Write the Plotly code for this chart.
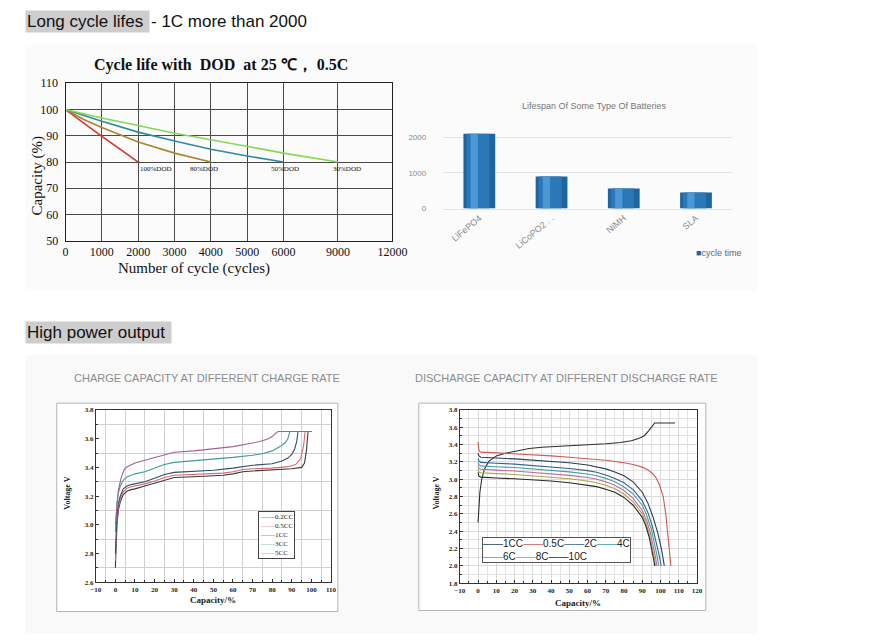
import numpy as np
import plotly.graph_objects as go

W, H = 873, 641


def px(x):
    return x / W


def py(y):
    return 1 - y / H


# ---------------- data ----------------
cycle_ticks = [0, 1000, 2000, 3000, 4000, 5000, 6000, 9000, 12000]
cycle_tick_text = ["0", "1000", "2000", "3000", "4000", "5000", "6000", "9000", "12000"]
capacity_ticks = [50, 60, 70, 80, 90, 100, 110]

dod100_cycles = [0, 500, 1000, 1500, 2000]
dod100_cap = [100, 94.8, 89.8, 84.9, 80]
dod80_cycles = [0, 500, 1000, 2000, 3000, 4000]
dod80_cap = [100, 96.2, 93.2, 87.6, 83.4, 80]
dod50_cycles = [0, 1000, 2000, 3000, 4000, 5000, 6000]
dod50_cap = [100, 95.5, 91.4, 88.0, 84.9, 82.3, 80]
dod30_cycles = [0, 1000, 2000, 3000, 4000, 5000, 6000, 9000]
dod30_cap = [100, 96.8, 93.9, 91.0, 88.5, 85.9, 83.4, 80]
dod_labels = ["100%DOD", "80%DOD", "50%DOD", "30%DOD"]

battery_types = ["LiFePO4", "LiCoPO2 . .", "NiMH", "SLA"]
battery_cycles = [2100, 900, 560, 450]
battery_ticks = [0, 1000, 2000]

c02_x = [0, 0.3, 0.8, 1.5, 2.5, 4, 6, 8, 10, 15, 20, 25, 30, 40, 50, 55, 60, 65, 70, 80, 90, 95, 96.5, 97.5, 98.3, 100]
c02_v = [2.70, 2.85, 3.00, 3.10, 3.16, 3.21, 3.235, 3.245, 3.25, 3.27, 3.29, 3.315, 3.33, 3.335, 3.34, 3.345,
         3.355, 3.37, 3.375, 3.38, 3.39, 3.40, 3.43, 3.52, 3.65, 3.65]
c05_x = [0, 0.3, 0.8, 1.5, 2.5, 4, 6, 8, 10, 15, 20, 25, 30, 40, 50, 55, 60, 65, 70, 80, 88, 92, 94.5, 96, 96.8, 100]
c05_v = [2.75, 2.90, 3.03, 3.12, 3.18, 3.23, 3.255, 3.265, 3.27, 3.285, 3.305, 3.33, 3.345, 3.35, 3.355, 3.36,
         3.37, 3.385, 3.39, 3.395, 3.405, 3.42, 3.46, 3.55, 3.65, 3.65]
c1_x = [0, 0.3, 0.8, 1.5, 2.5, 4, 6, 8, 10, 15, 20, 25, 30, 40, 50, 60, 65, 70, 80, 85, 88, 90, 91.5, 92.5, 93.2, 100]
c1_v = [2.80, 2.95, 3.06, 3.15, 3.20, 3.25, 3.27, 3.28, 3.285, 3.30, 3.325, 3.35, 3.365, 3.37, 3.38, 3.395,
        3.405, 3.415, 3.425, 3.445, 3.465, 3.49, 3.53, 3.58, 3.65, 3.65]
c3_x = [0, 0.3, 0.8, 1.5, 2.5, 4, 6, 8, 10, 15, 20, 25, 30, 40, 50, 60, 70, 75, 80, 84, 86.5, 88, 89, 100]
c3_v = [2.95, 3.05, 3.15, 3.22, 3.27, 3.31, 3.335, 3.345, 3.355, 3.37, 3.395, 3.42, 3.435, 3.445, 3.46, 3.47,
        3.485, 3.495, 3.515, 3.545, 3.57, 3.60, 3.65, 3.65]
c5_x = [0, 0.5, 1.5, 3, 4.5, 6, 8, 10, 15, 20, 25, 30, 40, 50, 60, 70, 75, 78, 80, 81.5, 83, 100]
c5_v = [3.00, 3.10, 3.24, 3.33, 3.385, 3.405, 3.42, 3.43, 3.45, 3.47, 3.49, 3.505, 3.515, 3.53, 3.545, 3.57,
        3.585, 3.60, 3.615, 3.635, 3.65, 3.65]
charge_names = ["0.2CC", "0.5CC", "1CC", "3CC", "5CC"]

chg_x = [0, 0.5, 1, 2, 3.5, 6, 10, 15, 20, 28, 35, 45, 60, 70, 78, 84, 88, 91, 93.5, 95.5, 96.8, 108]
chg_v = [2.50, 2.70, 2.85, 3.00, 3.12, 3.21, 3.27, 3.30, 3.32, 3.355, 3.37, 3.38, 3.395, 3.41, 3.425, 3.445,
         3.47, 3.50, 3.56, 3.62, 3.65, 3.65]
d05_x = [0, 0.4, 1, 2, 5, 10, 20, 30, 40, 50, 60, 70, 80, 85, 90, 93, 95.5, 97.5, 99.5, 101.5, 103, 104.3, 105.7]
d05_v = [3.43, 3.34, 3.32, 3.31, 3.31, 3.305, 3.295, 3.285, 3.27, 3.255, 3.24, 3.22, 3.19, 3.17, 3.14, 3.11,
         3.07, 3.02, 2.93, 2.80, 2.58, 2.30, 2.00]
d1_x = [0, 0.5, 1.5, 4, 10, 20, 30, 40, 50, 60, 65, 70, 75, 80, 85, 90, 93, 96, 98.5, 100.5, 102.1]
d1_v = [3.30, 3.27, 3.255, 3.25, 3.245, 3.235, 3.22, 3.205, 3.19, 3.165, 3.145, 3.12, 3.085, 3.04, 2.97, 2.85,
        2.73, 2.56, 2.38, 2.20, 2.00]
d2_x = [0, 0.5, 1.5, 4, 10, 20, 30, 40, 50, 60, 65, 70, 75, 80, 85, 90, 93, 95.5, 97.5, 99, 100.4]
d2_v = [3.24, 3.21, 3.195, 3.19, 3.185, 3.175, 3.16, 3.145, 3.125, 3.10, 3.08, 3.05, 3.01, 2.96, 2.88, 2.75,
        2.62, 2.46, 2.30, 2.15, 2.00]
d4_x = [0, 0.5, 1.5, 4, 10, 20, 30, 40, 50, 60, 65, 70, 75, 80, 85, 90, 92.5, 95, 96.8, 98, 99.0]
d4_v = [3.20, 3.165, 3.155, 3.15, 3.145, 3.135, 3.12, 3.105, 3.085, 3.06, 3.04, 3.01, 2.97, 2.91, 2.83, 2.70,
        2.58, 2.42, 2.26, 2.13, 2.00]
d6_x = [0, 0.5, 1.5, 4, 10, 20, 30, 40, 50, 60, 65, 70, 75, 80, 85, 90, 92.5, 94.5, 96.2, 97.2, 98.0]
d6_v = [3.16, 3.125, 3.115, 3.11, 3.105, 3.095, 3.08, 3.065, 3.045, 3.02, 3.00, 2.97, 2.93, 2.87, 2.78, 2.64,
        2.52, 2.38, 2.22, 2.11, 2.00]
d8_x = [0, 0.5, 1.5, 4, 10, 20, 30, 40, 50, 60, 65, 70, 75, 80, 85, 90, 92, 94, 95.8, 96.7, 97.3]
d8_v = [3.12, 3.085, 3.075, 3.07, 3.065, 3.055, 3.04, 3.025, 3.005, 2.98, 2.96, 2.93, 2.89, 2.83, 2.74, 2.60,
        2.50, 2.36, 2.20, 2.09, 2.00]
d10_x = [0, 0.5, 1.5, 4, 10, 20, 30, 40, 50, 60, 65, 70, 75, 80, 85, 90, 92, 93.8, 95.4, 96.2, 96.8]
d10_v = [3.08, 3.035, 3.025, 3.02, 3.015, 3.005, 2.995, 2.98, 2.96, 2.935, 2.915, 2.885, 2.85, 2.79, 2.70, 2.56,
         2.46, 2.33, 2.18, 2.08, 2.00]
discharge_names = ["1CC", "0.5C", "2C", "4C", "6C", "8C", "10C"]

# ---------------- styling ----------------
SERIF = "Liberation Serif, Times New Roman, serif"
SANS = "Liberation Sans, Arial, sans-serif"
BAR_COLOR = "#1f64a0"

# the cycle axis of the original picture is stretched unevenly (6000 -> 9000 -> 12000 compressed)
cycle_axis_pos = [0, 1, 2, 3, 4, 5, 6, 7.5, 9]


def cyc(c):
    return np.interp(c, cycle_ticks, cycle_axis_pos)


fig = go.Figure()

dod_sets = [(dod100_cycles, dod100_cap, "#d8352a"),
            (dod80_cycles, dod80_cap, "#a8862e"),
            (dod50_cycles, dod50_cap, "#2f8c9c"),
            (dod30_cycles, dod30_cap, "#84d852")]
for (cx, cy, col), name in zip(dod_sets, dod_labels):
    fig.add_trace(go.Scatter(x=cyc(cx), y=cy, mode="lines", name=name,
                             line=dict(color=col, width=1.6), xaxis="x", yaxis="y"))

fig.add_trace(go.Bar(x=battery_types, y=battery_cycles, name="cycle time", width=0.44, offset=-0.22,
                     marker=dict(color=BAR_COLOR, line=dict(width=0)), xaxis="x2", yaxis="y2"))
fig.add_trace(go.Bar(x=battery_types, y=battery_cycles, name="cycle time", width=0.32, offset=-0.18,
                     marker=dict(color="#2a78b8", line=dict(width=0)), xaxis="x2", yaxis="y2"))
fig.add_trace(go.Bar(x=battery_types, y=battery_cycles, name="cycle time", width=0.10, offset=-0.12,
                     marker=dict(color="#4c98d4", line=dict(width=0)), xaxis="x2", yaxis="y2"))

charge_colors = ["#3a3a3a", "#d46a6e", "#2f4d6c", "#3f9c9a", "#a2628f"]
charge_sets = [(c02_x, c02_v), (c05_x, c05_v), (c1_x, c1_v), (c3_x, c3_v), (c5_x, c5_v)]
for (cx, cv), col, name in zip(charge_sets, charge_colors, charge_names):
    fig.add_trace(go.Scatter(x=cx, y=cv, mode="lines", name=name, line=dict(color=col, width=1.1),
                             xaxis="x3", yaxis="y3"))

fig.add_trace(go.Scatter(x=chg_x, y=chg_v, mode="lines", name="charge",
                         line=dict(color="#2e2e2e", width=1.1), xaxis="x4", yaxis="y4"))
discharge_colors = ["#2c3c5c", "#cf5a58", "#34628f", "#45a0a2", "#c26aa0", "#a9a548", "#2a2a2a"]
discharge_sets = [(d1_x, d1_v), (d05_x, d05_v), (d2_x, d2_v), (d4_x, d4_v), (d6_x, d6_v),
                  (d8_x, d8_v), (d10_x, d10_v)]
for (dx, dv), col, name in zip(discharge_sets, discharge_colors, discharge_names):
    fig.add_trace(go.Scatter(x=dx, y=dv, mode="lines", name=name, line=dict(color=col, width=1.1),
                             xaxis="x4", yaxis="y4"))

tick_small = dict(family=SERIF, size=7, color="#222", weight="bold")

fig.update_layout(
    width=W, height=H, margin=dict(l=0, r=0, t=0, b=0), showlegend=False,
    paper_bgcolor="white", plot_bgcolor="white", barmode="overlay",
    xaxis=dict(domain=[px(61), px(396)], range=[0, 9], anchor="y", tickvals=cycle_axis_pos,
               ticktext=cycle_tick_text, showgrid=True, gridcolor="#4a4a4a", gridwidth=1,
               showline=True, linecolor="#222", mirror=True, zeroline=False, ticks="",
               tickfont=dict(family=SERIF, size=12, color="#111")),
    yaxis=dict(domain=[py(239), py(78)], range=[50, 110], anchor="x", tickvals=capacity_ticks,
               showgrid=True, gridcolor="#4a4a4a", gridwidth=1, showline=True, linecolor="#222",
               mirror=True, zeroline=False, ticks="", ticklabelstandoff=4,
               tickfont=dict(family=SERIF, size=12, color="#111")),
    xaxis2=dict(domain=[px(448), px(744)], anchor="y2", type="category", tickangle=-40,
                tickfont=dict(family=SANS, size=9, color="#8a8a8a"), showgrid=False, showline=True,
                linecolor="#e4e4e4", ticks=""),
    yaxis2=dict(domain=[py(206), py(112)], range=[0, 2580], anchor="x2", tickvals=battery_ticks,
                showgrid=True, gridcolor="#e4e4e4", zeroline=False, showline=False, ticks="",
                ticklabelstandoff=16, tickfont=dict(family=SANS, size=8, color="#8a8a8a")),
    xaxis3=dict(domain=[px(92), px(333)], range=[-10, 110], anchor="y3", tick0=0, dtick=10,
                showgrid=False, zeroline=False, showline=True, linecolor="#333", mirror=True,
                ticks="inside", ticklen=3, tickcolor="#333", tickfont=tick_small,
                minor=dict(tickvals=list(range(-5, 110, 10)), showgrid=True, gridcolor="#cfcfcf",
                           ticks="inside", ticklen=2, tickcolor="#333")),
    yaxis3=dict(domain=[py(588), py(412)], range=[2.6, 3.8], anchor="x3", tick0=2.6, dtick=0.2,
                tickformat=".1f", showgrid=False, zeroline=False, showline=True, linecolor="#333",
                mirror=True, ticks="inside", ticklen=3, tickcolor="#333", tickfont=tick_small,
                minor=dict(tickvals=[2.7, 2.9, 3.1, 3.3, 3.5, 3.7], showgrid=True, gridcolor="#cfcfcf",
                           ticks="inside", ticklen=2, tickcolor="#333")),
    xaxis4=dict(domain=[px(465), px(708)], range=[-10, 120], anchor="y4", tick0=0, dtick=10,
                showgrid=True, gridcolor="#dadada", zeroline=False, showline=True, linecolor="#333",
                mirror=True, ticks="inside", ticklen=3, tickcolor="#333", tickfont=tick_small,
                minor=dict(dtick=5, showgrid=True, gridcolor="#e2e2e2", ticks="inside", ticklen=2,
                           tickcolor="#333")),
    yaxis4=dict(domain=[py(589), py(412)], range=[1.8, 3.8], anchor="x4", tick0=1.8, dtick=0.2,
                tickformat=".1f", showgrid=True, gridcolor="#dadada", zeroline=False, showline=True,
                linecolor="#333", mirror=True, ticks="inside", ticklen=3, tickcolor="#333",
                tickfont=tick_small,
                minor=dict(dtick=0.1, showgrid=True, gridcolor="#e2e2e2", ticks="inside", ticklen=2,
                           tickcolor="#333")),
)

shapes = [
    dict(type="rect", xref="paper", yref="paper", x0=px(20), x1=px(770), y0=py(290), y1=py(38),
         fillcolor="#fbfbfb", line=dict(width=0), layer="below"),
    dict(type="rect", xref="paper", yref="paper", x0=px(20), x1=px(770), y0=py(641), y1=py(356),
         fillcolor="#f9f9f9", line=dict(width=0), layer="below"),
    dict(type="rect", xref="paper", yref="paper", x0=px(52), x1=px(340), y0=py(618), y1=py(405),
         fillcolor="white", line=dict(color="#b5b5b5", width=1), layer="below"),
    dict(type="rect", xref="paper", yref="paper", x0=px(423), x1=px(717), y0=py(617), y1=py(405),
         fillcolor="white", line=dict(color="#b5b5b5", width=1), layer="below"),
]
fig.update_layout(shapes=shapes)


def swatch(color, n=2):
    return "<span style='color:%s'>%s</span>" % (color, "\u2014" * n)


ann = []
ann.append(dict(text="Long cycle lifes\u00a0", x=px(19), y=py(15), xref="paper", yref="paper",
                xanchor="left", yanchor="middle", showarrow=False, bgcolor="#cdcdcd", borderpad=1,
                font=dict(family=SANS, size=17, color="#111")))
ann.append(dict(text="- 1C more than 2000", x=px(147), y=py(15), xref="paper", yref="paper",
                xanchor="left", yanchor="middle", showarrow=False,
                font=dict(family=SANS, size=17, color="#111")))
ann.append(dict(text="High power output\u00a0", x=px(19), y=py(333), xref="paper", yref="paper",
                xanchor="left", yanchor="middle", showarrow=False, bgcolor="#cdcdcd", borderpad=1,
                font=dict(family=SANS, size=17, color="#111")))
ann.append(dict(text="CHARGE CAPACITY AT DIFFERENT CHARGE RATE", x=px(206), y=py(379), xref="paper",
                yref="paper", xanchor="center", yanchor="middle", showarrow=False,
                font=dict(family=SANS, size=11, color="#8c8c8c")))
ann.append(dict(text="DISCHARGE CAPACITY AT DIFFERENT DISCHARGE RATE", x=px(574), y=py(379),
                xref="paper", yref="paper", xanchor="center", yanchor="middle", showarrow=False,
                font=dict(family=SANS, size=11, color="#8c8c8c")))
ann.append(dict(text="Cycle life with\u00a0 DOD\u00a0 at 25 \u2103\uff0c 0.5C", x=px(220), y=py(59),
                xref="paper", yref="paper", xanchor="center", yanchor="middle", showarrow=False,
                font=dict(family=SERIF, size=16, color="#111", weight="bold")))
ann.append(dict(text="Capacity (%)", x=px(32), y=py(172), xref="paper", yref="paper", textangle=-90,
                xanchor="center", yanchor="middle", showarrow=False,
                font=dict(family=SERIF, size=15, color="#111")))
ann.append(dict(text="Number of cycle (cycles)", x=px(193), y=py(267), xref="paper", yref="paper",
                xanchor="center", yanchor="middle", showarrow=False,
                font=dict(family=SERIF, size=15, color="#111")))
label_shift = [18, -7, 2, 9]
for (cx, cy, col), name, sh in zip(dod_sets, dod_labels, label_shift):
    ann.append(dict(text=name, x=float(cyc(cx[-1])), y=cy[-1], xref="x", yref="y", xanchor="center",
                    yanchor="top", xshift=sh, yshift=-1, showarrow=False,
                    font=dict(family=SERIF, size=7, color="#111")))
ann.append(dict(text="Lifespan Of Some Type Of Batteries", x=px(603), y=py(101), xref="paper",
                yref="paper", xanchor="center", yanchor="middle", showarrow=False,
                font=dict(family=SANS, size=9, color="#777")))
ann.append(dict(text="<span style='color:%s'>\u25a0</span>cycle time" % BAR_COLOR, x=px(705), y=py(251),
                xref="paper", yref="paper", xanchor="left", yanchor="middle", showarrow=False,
                font=dict(family=SANS, size=9, color="#666")))
charge_legend = "<br>".join(swatch(c) + n for c, n in zip(charge_colors, charge_names))
ann.append(dict(text=charge_legend, x=px(258), y=py(515), xref="paper", yref="paper", align="left",
                xanchor="left", yanchor="top", showarrow=False, bgcolor="white", bordercolor="#444",
                borderwidth=1, borderpad=1, font=dict(family=SERIF, size=7, color="#222")))
row1 = "".join(swatch(c) + n for c, n in zip(discharge_colors[:4], discharge_names[:4]))
row2 = "".join(swatch(c) + n for c, n in zip(discharge_colors[4:], discharge_names[4:]))
ann.append(dict(text=row1 + "<br>" + row2, x=px(488), y=py(542), xref="paper", yref="paper",
                align="left", xanchor="left", yanchor="top", showarrow=False, bgcolor="white",
                bordercolor="#555", borderwidth=1, borderpad=0,
                font=dict(family=SANS, size=10, color="#222")))
for xc, yc in [(212, 606), (586, 609)]:
    ann.append(dict(text="Capacity/%", x=px(xc), y=py(yc), xref="paper", yref="paper",
                    xanchor="center", yanchor="middle", showarrow=False,
                    font=dict(family=SERIF, size=9, color="#222", weight="bold")))
for xc, yc in [(63, 497), (441, 497)]:
    ann.append(dict(text="Voltage V", x=px(xc), y=py(yc), xref="paper", yref="paper", textangle=-90,
                    xanchor="center", yanchor="middle", showarrow=False,
                    font=dict(family=SERIF, size=8, color="#222", weight="bold")))
fig.update_layout(annotations=ann)

fig.write_html(
    "out.html",
    config={"displayModeBar": False},
    post_script=("document.body.style.margin='0';document.body.style.overflow='hidden';"
                 "document.documentElement.style.overflow='hidden';"),
)
